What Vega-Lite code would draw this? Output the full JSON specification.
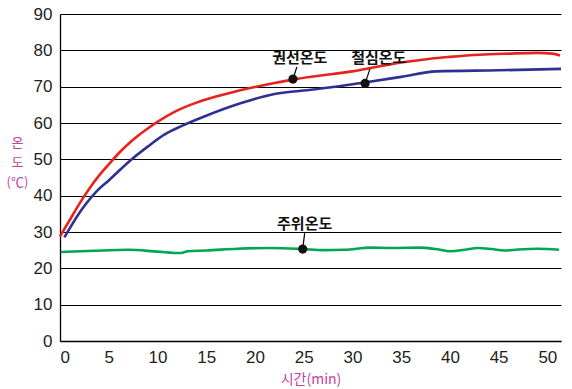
{
  "$schema": "https://vega.github.io/schema/vega-lite/v6.json",
  "width": 501,
  "height": 327,
  "autosize": "none",
  "padding": {"left": 60, "top": 14, "right": 11, "bottom": 48},
  "background": "white",
  "config": {
    "view": {"stroke": null},
    "axis": {
      "labelFont": "Liberation Sans",
      "labelFontSize": 17,
      "labelColor": "#231f20",
      "labelOverlap": false,
      "ticks": false,
      "domainColor": "#000000",
      "domainWidth": 1.3,
      "titleFont": "Noto Sans CJK KR",
      "titleFontWeight": "normal",
      "titleColor": "#c0449c"
    }
  },
  "datasets": {
    "curves": [
      {"s": "red", "t": 0, "v": 28.8},
      {"s": "red", "t": 1, "v": 33.3},
      {"s": "red", "t": 2, "v": 37.8},
      {"s": "red", "t": 3, "v": 41.9},
      {"s": "red", "t": 4, "v": 45.5},
      {"s": "red", "t": 5, "v": 48.6},
      {"s": "red", "t": 6, "v": 51.6},
      {"s": "red", "t": 7, "v": 54.2},
      {"s": "red", "t": 8, "v": 56.5},
      {"s": "red", "t": 9, "v": 58.5},
      {"s": "red", "t": 10, "v": 60.3},
      {"s": "red", "t": 12, "v": 63.4},
      {"s": "red", "t": 14, "v": 65.6},
      {"s": "red", "t": 16, "v": 67.3},
      {"s": "red", "t": 18, "v": 68.7},
      {"s": "red", "t": 20, "v": 69.9},
      {"s": "red", "t": 22, "v": 71.0},
      {"s": "red", "t": 24, "v": 72.0},
      {"s": "red", "t": 26, "v": 72.8},
      {"s": "red", "t": 28, "v": 73.5},
      {"s": "red", "t": 30, "v": 74.2},
      {"s": "red", "t": 32, "v": 75.2},
      {"s": "red", "t": 34, "v": 76.2},
      {"s": "red", "t": 36, "v": 77.0},
      {"s": "red", "t": 38, "v": 77.7},
      {"s": "red", "t": 40, "v": 78.2},
      {"s": "red", "t": 43, "v": 78.8},
      {"s": "red", "t": 46, "v": 79.1},
      {"s": "red", "t": 49, "v": 79.3},
      {"s": "red", "t": 50.5, "v": 79.1},
      {"s": "red", "t": 51.3, "v": 78.6},
      {"s": "blue", "t": 0.45, "v": 28.5},
      {"s": "blue", "t": 2, "v": 35.3},
      {"s": "blue", "t": 3.9, "v": 41.6},
      {"s": "blue", "t": 5, "v": 44.2},
      {"s": "blue", "t": 7.3, "v": 49.9},
      {"s": "blue", "t": 9, "v": 53.5},
      {"s": "blue", "t": 10.7, "v": 56.8},
      {"s": "blue", "t": 12.5, "v": 59.2},
      {"s": "blue", "t": 14.8, "v": 61.8},
      {"s": "blue", "t": 18.6, "v": 65.5},
      {"s": "blue", "t": 22, "v": 68.0},
      {"s": "blue", "t": 26, "v": 69.2},
      {"s": "blue", "t": 31.4, "v": 71.2},
      {"s": "blue", "t": 35, "v": 72.7},
      {"s": "blue", "t": 38.6, "v": 74.2},
      {"s": "blue", "t": 45, "v": 74.5},
      {"s": "blue", "t": 51.4, "v": 74.9},
      {"s": "green", "t": 0.1, "v": 24.5},
      {"s": "green", "t": 3.5, "v": 24.85},
      {"s": "green", "t": 7, "v": 25.1},
      {"s": "green", "t": 10, "v": 24.6},
      {"s": "green", "t": 12.4, "v": 24.2},
      {"s": "green", "t": 13.1, "v": 24.7},
      {"s": "green", "t": 15, "v": 24.9},
      {"s": "green", "t": 18.2, "v": 25.4},
      {"s": "green", "t": 21.7, "v": 25.6},
      {"s": "green", "t": 24.9, "v": 25.3},
      {"s": "green", "t": 27, "v": 25.0},
      {"s": "green", "t": 29.2, "v": 25.1},
      {"s": "green", "t": 31.9, "v": 25.7},
      {"s": "green", "t": 34, "v": 25.6},
      {"s": "green", "t": 37, "v": 25.7},
      {"s": "green", "t": 38.5, "v": 25.3},
      {"s": "green", "t": 40.1, "v": 24.7},
      {"s": "green", "t": 41.5, "v": 25.1},
      {"s": "green", "t": 42.9, "v": 25.6},
      {"s": "green", "t": 44.3, "v": 25.3},
      {"s": "green", "t": 45.6, "v": 24.9},
      {"s": "green", "t": 47, "v": 25.2},
      {"s": "green", "t": 49, "v": 25.4},
      {"s": "green", "t": 51.2, "v": 25.1}
    ],
    "notes": [
      {"label": "권선온도", "t": 23.9, "v": 72.1, "lt": 24.3, "lv": 75.4, "tt": 24.6, "tv": 78.0},
      {"label": "철심온도", "t": 31.3, "v": 70.9, "lt": 31.8, "lv": 74.9, "tt": 32.7, "tv": 77.9},
      {"label": "주위온도", "t": 24.9, "v": 25.3, "lt": 25.1, "lv": 29.7, "tt": 25.1, "tv": 32.3}
    ]
  },
  "layer": [
    {
      "data": {"name": "curves"},
      "mark": {"type": "line", "strokeWidth": 2.6, "interpolate": "monotone"},
      "encoding": {
        "x": {
          "field": "t", "type": "quantitative",
          "scale": {"domain": [0, 51.4], "nice": false, "zero": false},
          "axis": {
            "values": [0, 5, 10, 15, 20, 25, 30, 35, 40, 45, 50],
            "grid": false,
            "labelPadding": 8,
            "title": "시간(min)",
            "titleFontSize": 14,
            "titleY": 38,
            "titleBaseline": "middle"
          }
        },
        "y": {
          "field": "v", "type": "quantitative",
          "scale": {"domain": [0, 90], "nice": false},
          "axis": {
            "values": [0, 10, 20, 30, 40, 50, 60, 70, 80, 90],
            "grid": true,
            "gridColor": "#000000",
            "gridWidth": 1.2,
            "gridOpacity": 1,
            "labelPadding": 8,
            "title": ["온", "도", "(℃)"],
            "titleAngle": 0,
            "titleFontSize": 13,
            "titleLineHeight": 20,
            "titleAlign": "center",
            "titleBaseline": "middle",
            "titleX": -43,
            "titleY": 128
          }
        },
        "color": {
          "field": "s", "type": "nominal",
          "scale": {"domain": ["red", "blue", "green"], "range": ["#e8221c", "#2e3192", "#00a651"]},
          "legend": null
        },
        "detail": {"field": "s"}
      }
    },
    {
      "data": {"name": "notes"},
      "mark": {"type": "rule", "color": "#000000", "strokeWidth": 1.2},
      "encoding": {
        "x": {
          "field": "t", "type": "quantitative",
          "axis": {
            "values": [0, 5, 10, 15, 20, 25, 30, 35, 40, 45, 50],
            "grid": false,
            "labelPadding": 8,
            "title": "시간(min)",
            "titleFontSize": 14,
            "titleY": 38,
            "titleBaseline": "middle"
          }
        },
        "y": {
          "field": "v", "type": "quantitative",
          "axis": {
            "values": [0, 10, 20, 30, 40, 50, 60, 70, 80, 90],
            "grid": true,
            "gridColor": "#000000",
            "gridWidth": 1.2,
            "gridOpacity": 1,
            "labelPadding": 8,
            "title": ["온", "도", "(℃)"],
            "titleAngle": 0,
            "titleFontSize": 13,
            "titleLineHeight": 20,
            "titleAlign": "center",
            "titleBaseline": "middle",
            "titleX": -43,
            "titleY": 128
          }
        },
        "x2": {"field": "lt"},
        "y2": {"field": "lv"}
      }
    },
    {
      "data": {"name": "notes"},
      "mark": {"type": "point", "filled": true, "color": "#111111", "size": 85, "opacity": 1},
      "encoding": {
        "x": {
          "field": "t", "type": "quantitative",
          "axis": {
            "values": [0, 5, 10, 15, 20, 25, 30, 35, 40, 45, 50],
            "grid": false,
            "labelPadding": 8,
            "title": "시간(min)",
            "titleFontSize": 14,
            "titleY": 38,
            "titleBaseline": "middle"
          }
        },
        "y": {
          "field": "v", "type": "quantitative",
          "axis": {
            "values": [0, 10, 20, 30, 40, 50, 60, 70, 80, 90],
            "grid": true,
            "gridColor": "#000000",
            "gridWidth": 1.2,
            "gridOpacity": 1,
            "labelPadding": 8,
            "title": ["온", "도", "(℃)"],
            "titleAngle": 0,
            "titleFontSize": 13,
            "titleLineHeight": 20,
            "titleAlign": "center",
            "titleBaseline": "middle",
            "titleX": -43,
            "titleY": 128
          }
        }
      }
    },
    {
      "data": {"name": "notes"},
      "mark": {"type": "text", "font": "Noto Sans CJK KR", "fontSize": 15, "fontWeight": 600, "color": "#111111", "align": "center", "baseline": "middle"},
      "encoding": {
        "x": {
          "field": "tt", "type": "quantitative",
          "axis": {
            "values": [0, 5, 10, 15, 20, 25, 30, 35, 40, 45, 50],
            "grid": false,
            "labelPadding": 8,
            "title": "시간(min)",
            "titleFontSize": 14,
            "titleY": 38,
            "titleBaseline": "middle"
          }
        },
        "y": {
          "field": "tv", "type": "quantitative",
          "axis": {
            "values": [0, 10, 20, 30, 40, 50, 60, 70, 80, 90],
            "grid": true,
            "gridColor": "#000000",
            "gridWidth": 1.2,
            "gridOpacity": 1,
            "labelPadding": 8,
            "title": ["온", "도", "(℃)"],
            "titleAngle": 0,
            "titleFontSize": 13,
            "titleLineHeight": 20,
            "titleAlign": "center",
            "titleBaseline": "middle",
            "titleX": -43,
            "titleY": 128
          }
        },
        "text": {"field": "label"}
      }
    }
  ]
}
